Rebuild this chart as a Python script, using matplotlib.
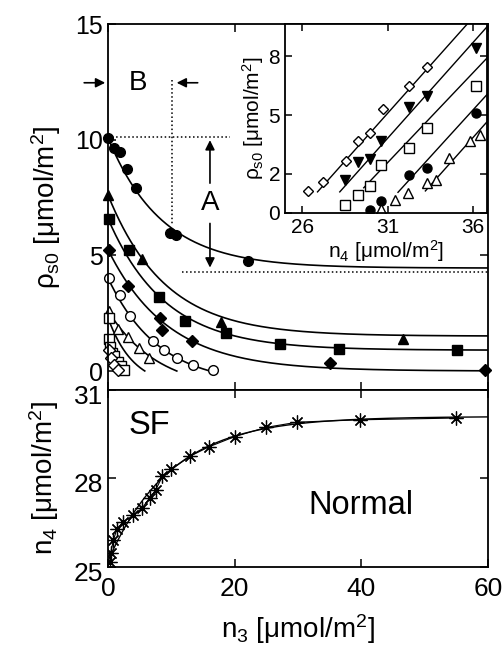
import matplotlib
matplotlib.use("Agg")
import matplotlib.pyplot as plt
from matplotlib.transforms import ScaledTranslation
import numpy as np

plt.rcParams['font.family'] = ['Liberation Sans', 'DejaVu Sans']
plt.rcParams['mathtext.fontset'] = 'custom'
plt.rcParams['mathtext.rm'] = 'Liberation Sans'
plt.rcParams['mathtext.it'] = 'Liberation Sans'

# ---- top panel: superfluid density vs n3 (one series per n4) ----
fc_x = [0.0, 0.95, 1.9, 3.0, 4.4, 9.8, 10.7, 22.1]
fc_y = [10.08, 9.66, 9.46, 8.74, 7.92, 5.97, 5.87, 4.74]
ft_x = [0.0, 5.4, 17.8, 46.6]
ft_y = [7.61, 4.84, 2.12, 1.37]
fs_x = [0.1, 3.3, 8.1, 12.2, 18.7, 27.2, 36.5, 55.1]
fs_y = [6.59, 5.25, 3.2, 2.18, 1.66, 1.15, 0.94, 0.9]
fd_x = [0.1, 3.2, 8.2, 8.5, 13.3, 35.0, 59.5]
fd_y = [5.25, 3.66, 2.28, 1.76, 1.29, 0.33, 0.05]
oc_x = [0.1, 1.9, 3.5, 7.1, 8.8, 10.9, 13.4, 16.5]
oc_y = [4.02, 3.3, 2.38, 1.29, 0.9, 0.56, 0.28, 0.05]
ot_x = [0.1, 1.6, 3.2, 4.9, 6.5]
ot_y = [2.6, 1.8, 1.45, 0.98, 0.55]
os_x = [0.1, 0.2, 0.3, 0.6, 1.0, 1.5, 2.0, 2.5]
os_y = [2.3, 1.4, 1.05, 0.78, 0.63, 0.4, 0.2, 0.05]
od_x = [0.1, 0.5, 1.0, 1.5]
od_y = [0.9, 0.55, 0.25, 0.05]

# exponential fits: rho = asym + (rho0 - asym) * exp(-n3 / tau), drawn while rho >= 0
fit_rho0 = [10.08, 7.61, 6.59, 5.25, 4.02, 2.6, 2.3, 0.9]
fit_asym = [4.45, 1.51, 0.9, 0.0, -0.62, -0.9, -0.7, -0.6]
fit_tau = [8.5, 9.0, 9.0, 9.5, 8.0, 8.0, 4.0, 2.5]

# ---- inset: rho_s0 vs n4 ----
in_od_x = [26.37, 27.24, 28.57, 29.25, 29.98, 30.73, 32.25, 33.31]
in_od_y = [1.14, 1.6, 2.67, 3.69, 4.1, 5.29, 6.5, 7.43]
in_fv_x = [28.53, 29.25, 29.98, 30.63, 32.25, 33.31, 36.18]
in_fv_y = [1.68, 2.62, 2.74, 3.69, 5.39, 5.97, 8.45]
in_os_x = [28.53, 29.25, 29.98, 30.63, 32.25, 33.31, 36.18]
in_os_y = [0.41, 0.92, 1.38, 2.45, 3.3, 4.35, 6.48]
in_fc_x = [29.98, 30.63, 32.25, 33.31, 36.18]
in_fc_y = [0.15, 0.63, 1.94, 2.31, 5.12]
in_ot_x = [30.63, 31.41, 32.19, 33.27, 33.8, 34.6, 35.82, 36.37]
in_ot_y = [0.19, 0.66, 1.0, 1.52, 1.68, 2.79, 3.69, 3.98]
# linear fits: rho = slope * (n4 - n4c), drawn from x_start
in_fit_n4c = [25.8, 27.1, 28.2, 30.5, 32.05]
in_fit_slope = [0.98, 0.98, 0.92, 0.96, 0.98]
in_fit_start = [26.9, 28.2, 29.6, 31.6, 33.2]

# ---- bottom panel: phase boundary n4 vs n3 ----
pb_x = [0.3, 0.4, 0.85, 1.4, 2.4, 4.0, 5.4, 6.6, 7.5, 8.6, 10.0, 13.0, 15.9, 20.0, 24.9, 29.9, 39.8, 55.0]
pb_y = [25.18, 25.46, 25.91, 26.28, 26.53, 26.75, 27.0, 27.35, 27.6, 28.08, 28.31, 28.76, 29.07, 29.42, 29.73, 29.91, 29.99, 30.05]
pb_fit = [30.1, 4.9, 10.0]  # n4_max, depth, tau

fig = plt.figure(figsize=(5.03, 6.56), dpi=100)
ax = fig.add_axes([108 / 503, 1 - 390 / 656, 380 / 503, 366 / 656])
ax2 = fig.add_axes([108 / 503, 1 - 567 / 656, 380 / 503, 177 / 656])
axin = fig.add_axes([285 / 503, 1 - 213 / 656, 202 / 503, 189 / 656])

TICK = 18
LAB = 20
for a in (ax, ax2, axin):
    for s in a.spines.values():
        s.set_linewidth(1.3)
    a.tick_params(direction='in', top=True, right=True, width=1.1, length=6)

xs = np.linspace(0, 60, 3000)
for r0, asym, tau in zip(fit_rho0, fit_asym, fit_tau):
    ys = asym + (r0 - asym) * np.exp(-xs / tau)
    ys = np.where(ys >= 0, ys, np.nan)
    ax.plot(xs, ys, color='black', lw=1.2)

mk = dict(color='black', ls='none', ms=7)
ax.plot(fc_x, fc_y, 'o', clip_on=False, **mk)
ax.plot(ft_x, ft_y, '^', clip_on=False, **mk)
ax.plot(fs_x, fs_y, 's', clip_on=False, **mk)
ax.plot(fd_x, fd_y, 'D', clip_on=False, **dict(mk, ms=6.5))
ax.plot(oc_x, oc_y, 'o', mfc='white', mew=1, clip_on=False, **mk)
ax.plot(ot_x, ot_y, '^', mfc='white', mew=1, clip_on=False, **mk)
ax.plot(os_x, os_y, 's', mfc='white', mew=1, clip_on=False, **mk)
ax.plot(od_x, od_y, 'D', mfc='white', mew=1, clip_on=False, **dict(mk, ms=6.5))

ax.set_xlim(0, 60)
ax.set_ylim(-0.82, 15)
ax.set_xticks([0, 20, 40, 60])
ax.set_xticklabels([])
ax.set_yticks([0, 5, 10, 15])
ax.tick_params(labelsize=TICK)
ax.set_ylabel(r'$\rho_{\rm s0}$ [$\mu$mol/m$^2$]', fontsize=LAB, labelpad=9)

# annotations A and B
ax.plot([0, 19.3], [10.1, 10.1], ls=':', color='black', lw=1.1)
ax.plot([11.7, 60], [4.3, 4.3], ls=':', color='black', lw=1.1)
ax.plot([10.1, 10.1], [12.6, 6.3], ls=':', color='black', lw=1.1)
arw = dict(arrowstyle='-|>', color='black', lw=1.2, mutation_scale=14)
ax.annotate('', xy=(0, 12.46), xytext=(-4.2, 12.46), arrowprops=arw, annotation_clip=False)
ax.annotate('', xy=(10.4, 12.46), xytext=(14.6, 12.46), arrowprops=arw)
ax.text(4.8, 12.46, 'B', fontsize=LAB, ha='center', va='center')
ax.annotate('', xy=(16.1, 10.1), xytext=(16.1, 8.0), arrowprops=arw)
ax.annotate('', xy=(16.1, 4.35), xytext=(16.1, 6.5), arrowprops=arw)
ax.text(16.1, 7.25, 'A', fontsize=LAB, ha='center', va='center')

# inset
for n4c, sl, x0 in zip(in_fit_n4c, in_fit_slope, in_fit_start):
    xl = np.linspace(x0, 37, 50)
    axin.plot(xl, sl * (xl - n4c), color='black', lw=1.0)
mi = dict(color='black', ls='none', ms=6.5)
axin.plot(in_od_x, in_od_y, 'D', mfc='white', mew=1, **dict(mi, ms=5.5))
axin.plot(in_fv_x, in_fv_y, 'v', **mi)
axin.plot(in_os_x, in_os_y, 's', mfc='white', mew=1, **mi)
axin.plot(in_fc_x, in_fc_y, 'o', **mi)
axin.plot(in_ot_x, in_ot_y, '^', mfc='white', mew=1, **mi)
axin.set_xlim(25.0, 36.8)
axin.set_ylim(0, 9.65)
axin.set_xticks([26, 31, 36])
axin.set_yticks([0, 2, 5, 8])
axin.tick_params(labelsize=15, length=5)
axin.set_xlabel(r'n$_4$ [$\mu$mol/m$^2$]', fontsize=15, labelpad=1)
axin.set_ylabel(r'$\rho_{\rm s0}$ [$\mu$mol/m$^2$]', fontsize=15, labelpad=2)

# bottom panel
xb = np.linspace(0, 60, 400)
ax2.plot(xb, pb_fit[0] - pb_fit[1] * np.exp(-xb / pb_fit[2]), color='black', lw=1.0)
ax2.plot(pb_x, pb_y, color='black', lw=0.8, marker=(8, 2, 0), ms=10, mew=0.9)
ax2.set_xlim(0, 60)
ax2.set_ylim(25, 31)
ax2.set_xticks([0, 20, 40, 60])
ax2.set_yticks([25, 28, 31])
ax2.tick_params(labelsize=19)
ax2.tick_params(axis='x', pad=7)
# the y tick labels sit a little below their ticks, as in the reference
shift = ScaledTranslation(0, -0.045, fig.dpi_scale_trans)
for lab in ax2.get_yticklabels():
    lab.set_transform(lab.get_transform() + shift)
ax2.text(6.6, 29.8, 'SF', fontsize=23.5, ha='center', va='center')
ax2.text(40, 27.1, 'Normal', fontsize=23.5, ha='center', va='center')
ax2.set_xlabel(r'n$_3$ [$\mu$mol/m$^2$]', fontsize=LAB, labelpad=8)
ax2.set_ylabel(r'n$_4$ [$\mu$mol/m$^2$]', fontsize=LAB, labelpad=9)

fig.savefig('out.png', dpi=100)
